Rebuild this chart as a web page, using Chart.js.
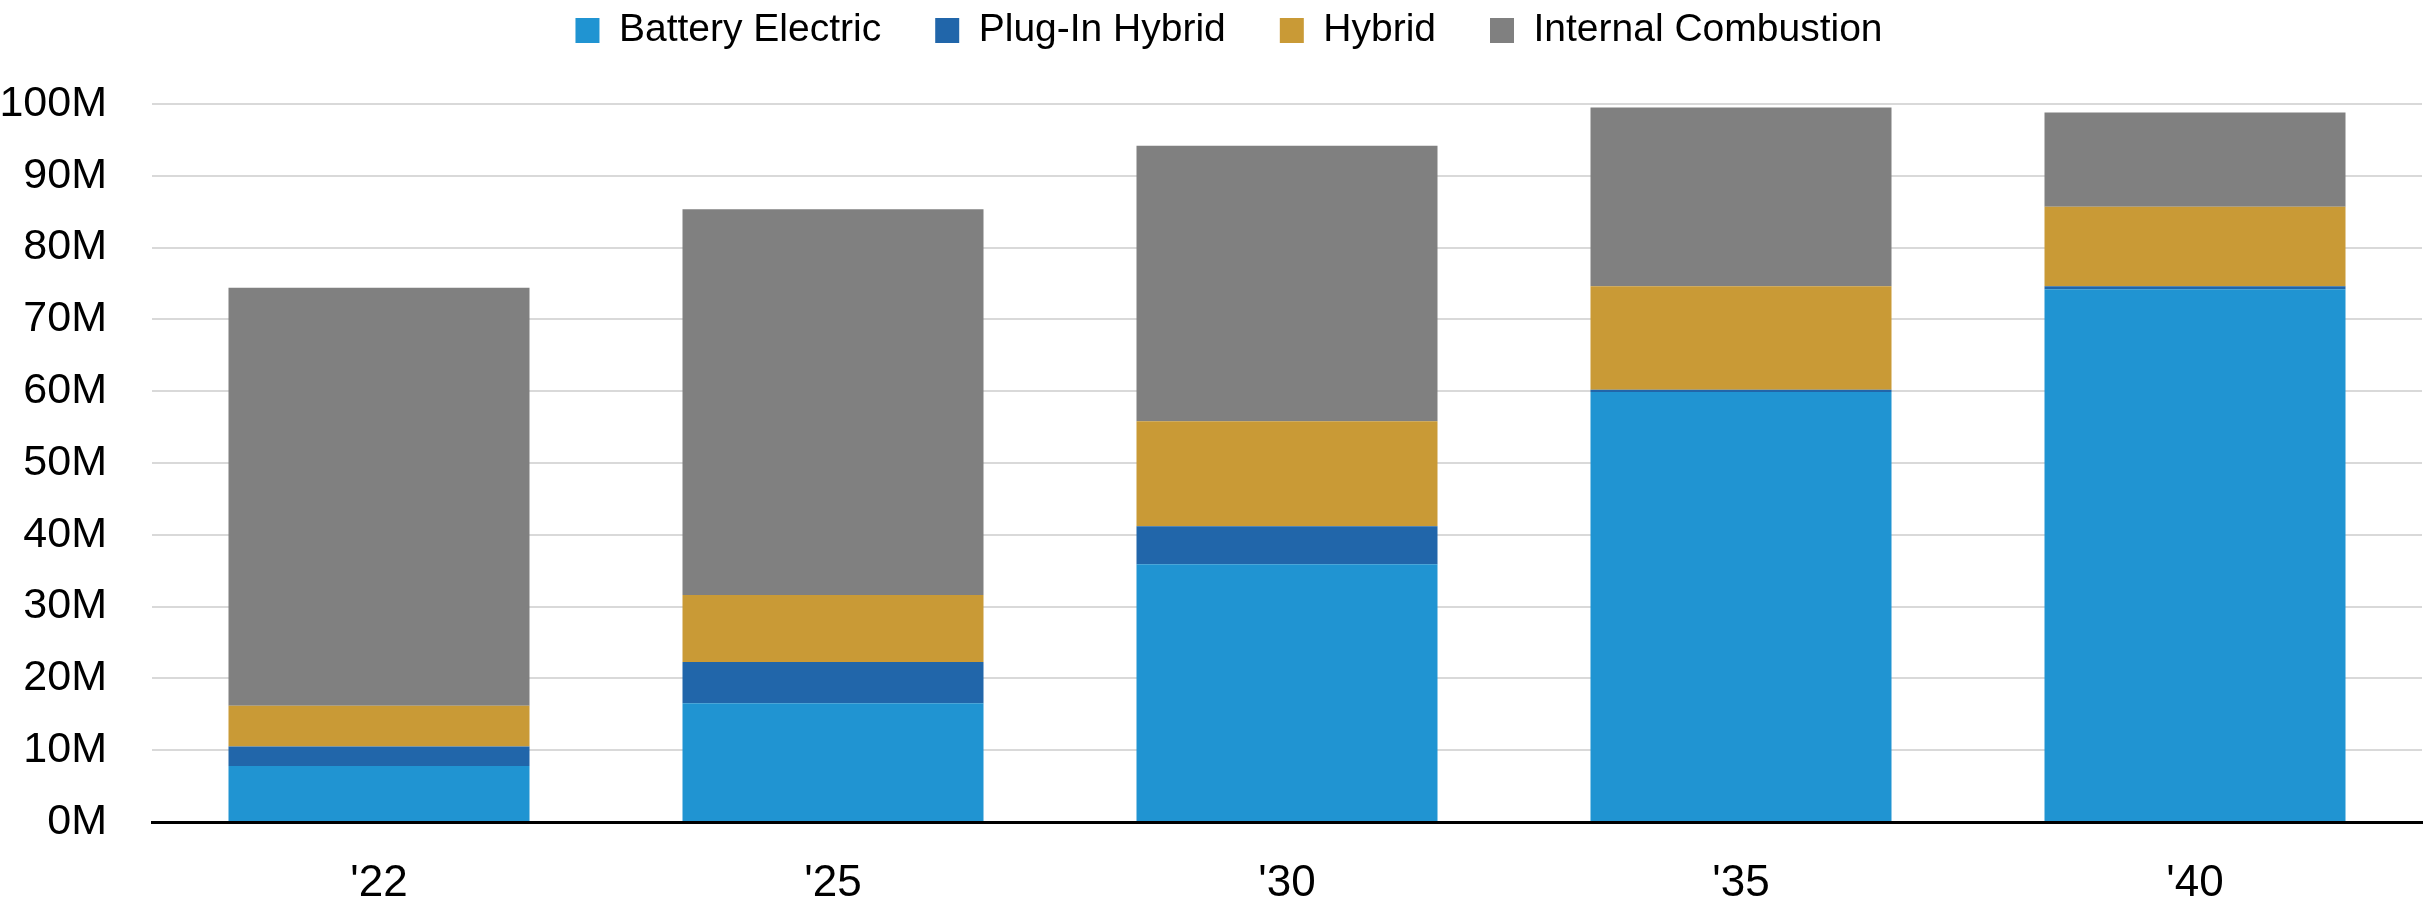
<!DOCTYPE html>
<html lang="en">
<head>
<meta charset="utf-8">
<title>Vehicle sales by powertrain</title>
<script src="https://cdn.jsdelivr.net/npm/chart.js@4/dist/chart.umd.min.js"></script>
<style>
    html, body { margin: 0; padding: 0; background: #fff; }
    #wrap { width: 2432px; height: 903px; position: relative; }
</style>
</head>
<body>
<div id="wrap"><canvas id="ventasChart"></canvas></div>
<script>
// Datos (millones de vehículos)
const years = ["'22", "'25", "'30", "'35", "'40"];
const batteryElectric = [7.8, 16.55, 35.9, 59.9, 74.2];
const plugInHybrid = [2.7, 5.75, 5.3, 0.3, 0.4];
const hybrid = [5.7, 9.3, 14.6, 14.4, 11.1];
const internalCombustion = [58.2, 53.75, 38.4, 24.9, 13.1];
const yTicks = [0, 10, 20, 30, 40, 50, 60, 70, 80, 90, 100];

(function () {
    'use strict';

    const narrow = "'Liberation Sans Narrow', 'Arial Narrow', 'Liberation Sans', Arial, sans-serif";
    const regular = "'Liberation Sans', Arial, sans-serif";

    // Espacio extra debajo de la leyenda y leve corrimiento a la derecha
    const legendSpacing = {
        id: 'legendSpacing',
        beforeInit: function (chart) {
            const fit = chart.legend.fit;
            chart.legend.fit = function () {
                fit.bind(chart.legend)();
                this.height += 44;
            };
        },
        afterLayout: function (chart) {
            chart.legend.left += 18;
            chart.legend.right += 18;
        }
    };

    const ds = (label, data, color) => ({
        label,
        data,
        backgroundColor: color,
        borderWidth: 0,
        categoryPercentage: 1,
        barPercentage: 0.663
    });

    const ctx = document.getElementById('ventasChart').getContext('2d');
    new Chart(ctx, {
        type: 'bar',
        data: {
            labels: years,
            datasets: [
                ds('Battery Electric', batteryElectric, '#2094d2'),
                ds('Plug-In Hybrid', plugInHybrid, '#2166aa'),
                ds('Hybrid', hybrid, '#c99a36'),
                ds('Internal Combustion', internalCombustion, '#808080')
            ]
        },
        options: {
            responsive: true,
            maintainAspectRatio: false,
            animation: false,
            layout: { padding: { top: -43, left: 0, right: 10, bottom: 0 } },
            plugins: {
                tooltip: { enabled: false },
                legend: {
                    position: 'top',
                    labels: {
                        boxWidth: 24,
                        boxHeight: 25,
                        padding: 54,
                        color: '#000',
                        font: { family: regular, size: 39 }
                    }
                }
            },
            scales: {
                x: {
                    stacked: true,
                    grid: { display: false, drawTicks: false },
                    border: { color: '#000', width: 3 },
                    afterFit: function (scale) { scale.height = 81; },
                    ticks: {
                        color: '#000',
                        padding: 40,
                        font: { family: narrow, size: 44, lineHeight: 1 }
                    }
                },
                y: {
                    stacked: true,
                    min: yTicks[0],
                    max: yTicks[yTicks.length - 1],
                    afterBuildTicks: function (axis) {
                        axis.ticks = yTicks.map(v => ({ value: v }));
                    },
                    afterFit: function (scale) { scale.width = 152; },
                    border: { display: false },
                    grid: {
                        drawTicks: false,
                        lineWidth: 2,
                        color: c => (c.tick && c.tick.value === 0) ? '#000' : '#d9d9d9'
                    },
                    ticks: {
                        color: '#000',
                        padding: 45,
                        font: { family: narrow, size: 43 },
                        callback: v => v + 'M'
                    }
                }
            }
        },
        plugins: [legendSpacing]
    });
})();
</script>
</body>
</html>
